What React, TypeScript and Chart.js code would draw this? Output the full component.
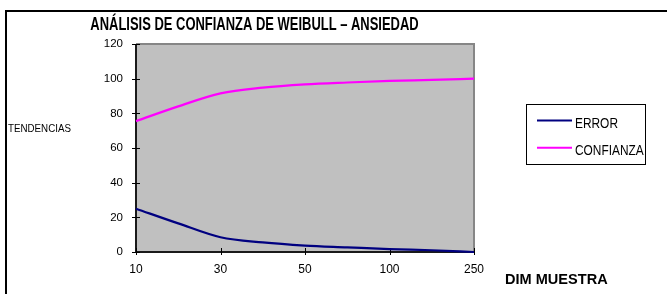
import React, { useEffect, useRef } from 'react';
import { Chart, registerables } from 'chart.js';

Chart.register(...registerables);

const categories = ['10', '20', '30', '40', '50', '75', '100', '150', '250'];
const errorValues = [25, 16.5, 8.5, 5.5, 3.7, 2.7, 1.7, 1.0, 0];
const confianzaValues = [75.5, 84, 91.5, 94.8, 96.7, 97.8, 98.7, 99.3, 100];
const seriesNames = ['ERROR', 'CONFIANZA'];
const seriesColors = ['#000080', '#FF00FF'];
const titleText = 'ANÁLISIS DE CONFIANZA DE WEIBULL – ANSIEDAD';
const yTitle = 'TENDENCIAS';
const xTitle = 'DIM MUESTRA';
const yMin = 0;
const yMax = 120;
const yStep = 20;

const FONT = '"Liberation Sans", Arial, sans-serif';

function drawText(ctx: CanvasRenderingContext2D, text: string, x: number, y: number, font: string, sx: number, align: CanvasTextAlign) {
  ctx.save();
  ctx.translate(x, y);
  ctx.scale(sx, 1);
  ctx.font = font;
  ctx.fillStyle = '#000';
  ctx.textAlign = align;
  ctx.textBaseline = 'alphabetic';
  ctx.fillText(text, 0, 0);
  ctx.restore();
}

const decorPlugin = {
  id: 'decor',
  beforeDraw(chart: any) {
    const { ctx, chartArea: a } = chart;
    ctx.save();
    ctx.fillStyle = '#C0C0C0';
    ctx.fillRect(a.left, a.top, a.right - a.left, a.bottom - a.top);
    ctx.restore();
  },
  beforeDatasetsDraw(chart: any) {
    const { ctx, chartArea: a, scales } = chart;
    ctx.save();
    // gray frame top/right
    ctx.strokeStyle = '#868686';
    ctx.lineWidth = 2;
    ctx.beginPath();
    ctx.moveTo(a.left, a.top);
    ctx.lineTo(a.right, a.top);
    ctx.lineTo(a.right, a.bottom);
    ctx.stroke();
    // axes
    ctx.strokeStyle = '#1a1a1a';
    ctx.lineWidth = 2;
    ctx.beginPath();
    ctx.moveTo(a.left, a.top);
    ctx.lineTo(a.left, a.bottom);
    ctx.lineTo(a.right, a.bottom);
    ctx.stroke();
    // ticks
    ctx.strokeStyle = '#000';
    ctx.lineWidth = 1;
    const y = scales.y;
    y.ticks.forEach((_t: any, i: number) => {
      const py = Math.round(y.getPixelForTick(i)) + 0.5;
      ctx.beginPath();
      ctx.moveTo(a.left - 4, py);
      ctx.lineTo(a.left + 4, py);
      ctx.stroke();
    });
    const x = scales.x;
    x.ticks.forEach((_t: any, i: number) => {
      if (i % 2 !== 0) return;
      const px = Math.round(x.getPixelForTick(i)) + 0.5;
      ctx.beginPath();
      ctx.moveTo(px, a.bottom - 4);
      ctx.lineTo(px, a.bottom + 3);
      ctx.stroke();
    });
    ctx.restore();
  },
  afterDraw(chart: any) {
    const { ctx } = chart;
    drawText(ctx, titleText, 254.5, 30, `bold 18px ${FONT}`, 0.72, 'center');
    drawText(ctx, yTitle, 8, 132, `10.5px ${FONT}`, 0.93, 'left');
    drawText(ctx, xTitle, 505, 284, `bold 15px ${FONT}`, 0.97, 'left');
    // legend
    ctx.save();
    ctx.strokeStyle = '#000';
    ctx.lineWidth = 1;
    ctx.strokeRect(526.5, 104.5, 119, 60);
    const rows = [120.5, 147.7];
    seriesNames.forEach((name, i) => {
      ctx.strokeStyle = seriesColors[i];
      ctx.lineWidth = 2;
      ctx.beginPath();
      ctx.moveTo(537, rows[i]);
      ctx.lineTo(572, rows[i]);
      ctx.stroke();
      drawText(ctx, name, 575, rows[i] + 7, `14px ${FONT}`, 0.85, 'left');
    });
    ctx.restore();
  },
};

export default function App() {
  const ref = useRef<HTMLCanvasElement>(null);
  useEffect(() => {
    const chart = new Chart(ref.current!, {
      type: 'line',
      data: {
        labels: categories,
        datasets: [
          {
            label: seriesNames[0],
            data: errorValues,
            borderColor: seriesColors[0],
            borderWidth: 2.2,
            pointRadius: 0,
            cubicInterpolationMode: 'monotone',
            clip: 4,
          } as any,
          {
            label: seriesNames[1],
            data: confianzaValues,
            borderColor: seriesColors[1],
            borderWidth: 2.2,
            pointRadius: 0,
            cubicInterpolationMode: 'monotone',
            clip: 4,
          } as any,
        ],
      },
      options: {
        responsive: false,
        animation: false,
        devicePixelRatio: 1,
        layout: { padding: { top: 44, right: 193, left: 0, bottom: 0 } },
        plugins: { legend: { display: false }, title: { display: false }, tooltip: { enabled: false } },
        scales: {
          x: {
            type: 'category',
            offset: false,
            grid: { display: false, drawTicks: false },
            border: { display: false },
            ticks: {
              autoSkip: false,
              maxRotation: 0,
              padding: 10,
              color: '#000',
              font: { family: FONT, size: 12 },
              callback: (_v: any, i: number) => (i % 2 === 0 ? categories[i] : ''),
            },
            afterFit: (s: any) => { s.height = 42; },
          },
          y: {
            min: yMin,
            max: yMax,
            grid: { display: false, drawTicks: false },
            border: { display: false },
            ticks: {
              stepSize: yStep,
              padding: 13,
              color: '#000',
              font: { family: FONT, size: 11.5 },
            },
            afterFit: (s: any) => { s.width = 136; },
          },
        },
      } as any,
      plugins: [decorPlugin],
    });
    return () => chart.destroy();
  }, []);
  return (
    <div style={{ position: 'absolute', left: 0, top: 0, width: 667, height: 294, overflow: 'hidden', background: '#fff' }}>
      <div style={{ position: 'absolute', left: 5, top: 10, width: 720, height: 340, border: '2px solid #000', boxSizing: 'border-box' }} />
      <canvas ref={ref} width={667} height={294} style={{ position: 'absolute', left: 0, top: 0, width: 667, height: 294 }} />
    </div>
  );
}
